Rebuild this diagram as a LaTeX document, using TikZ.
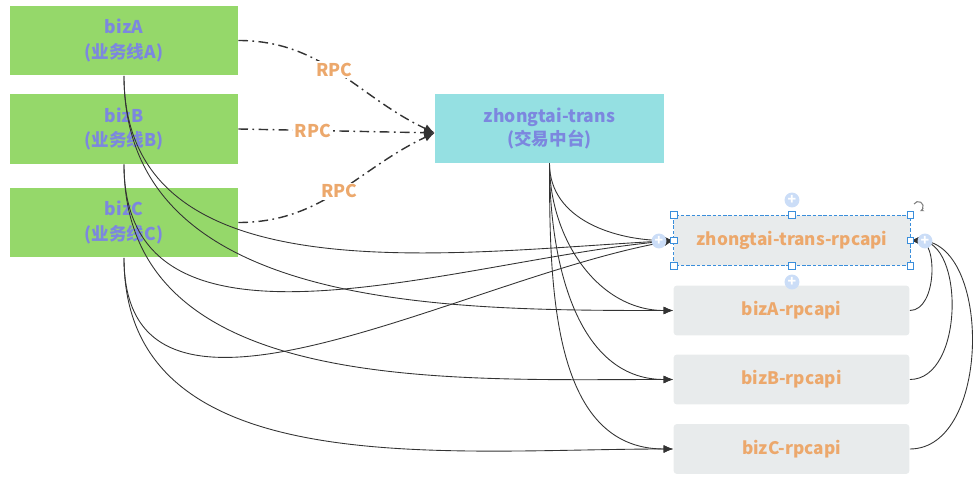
\documentclass[tikz,border=0pt]{standalone}
\usepackage{fontspec}
\setmainfont{Noto Sans CJK SC}
\usetikzlibrary{arrows.meta}
\definecolor{biz}{HTML}{95D86A}
\definecolor{trans}{HTML}{95E0E2}
\definecolor{api}{HTML}{E8EBEC}
\definecolor{title}{HTML}{7C87DF}
\definecolor{label}{HTML}{ECA86C}
\definecolor{wire}{HTML}{333333}
\definecolor{select}{HTML}{3A8EDB}
\definecolor{handle}{HTML}{CBDDF7}

\begin{document}
\begin{tikzpicture}[x=0.02cm, y=-0.02cm,
  bizbox/.style={fill=biz, minimum width=4.56cm, minimum height=1.4cm, align=center,
    text=title, font=\bfseries\fontsize{10}{14.5}\selectfont},
  transbox/.style={fill=trans, minimum width=4.58cm, minimum height=1.38cm, align=center,
    text=title, font=\bfseries\fontsize{10}{13.5}\selectfont},
  apibox/.style={fill=api, rounded corners=2pt, minimum width=4.72cm, minimum height=1cm,
    text=label, font=\bfseries\fontsize{9.8}{12}\selectfont},
  rpc/.style={draw=wire, line width=0.8pt, dash pattern=on 5.5pt off 2.5pt on 1pt off 2.5pt,
    -{Latex[length=6pt, width=5pt]}},
  rpclabel/.style={fill=white, text=label, inner sep=1pt, font=\bfseries\fontsize{10}{12}\selectfont},
  call/.style={draw=wire, line width=0.5pt, -{Latex[length=5.5pt, width=4.5pt]}},
  handlebox/.style={draw=select, fill=white, line width=0.5pt, minimum size=3.8pt, inner sep=0pt},
  plusdot/.style={circle, fill=handle, text=white, minimum size=8.5pt, inner sep=0pt,
    font=\bfseries\fontsize{8}{8}\selectfont}
]
  \useasboundingbox (0,0) rectangle (978,483);

  % Business lines
  \foreach \n/\y in {A/40.5, B/129, C/222.5}
    \node[bizbox] (biz\n) at (124,\y) {biz\n\\[-0.4pt](业务线\n)};

  % Middle platform
  \node[transbox] (zt) at (549.5,128.5) {zhongtai-trans\\(交易中台)};

  % rpcapi packages
  \node[apibox] (ztapi) at (792,240.5) {zhongtai-trans-rpcapi};
  \foreach \n/\y in {A/310.5, B/379.5, C/449}
    \node[apibox] (api\n) at (791.5,\y) {biz\n-rpcapi};

  % RPC calls into the middle platform
  \coordinate (ztin) at ([yshift=-2.5pt]zt.west);
  \draw[rpc] (bizA.east) to[out=0, in=155] node[rpclabel, pos=0.47] {RPC} (ztin);
  \draw[rpc] (bizB.east) -- node[rpclabel, pos=0.38] {RPC} (ztin);
  \draw[rpc] (bizC.east) to[out=0, in=205] node[rpclabel, pos=0.5] {RPC} (ztin);

  % Dependencies on the rpcapi packages
  \foreach \n/\a in {A/183, B/185, C/190} {
    \draw[call] (biz\n.south) to[out=-90, in=180] (api\n.west);
    \draw[call] (biz\n.south) to[out=-90, in=\a] (ztapi.west);
  }
  \foreach \t in {ztapi, apiA, apiB, apiC}
    \draw[call] (zt.south) to[out=-90, in=180] (\t.west);
  \foreach \n in {A, B, C}
    \draw[call] (api\n.east) to[out=0, in=0] (ztapi.east);

  % Selection frame round zhongtai-trans-rpcapi
  \draw[select, line width=0.5pt, dash pattern=on 2pt off 1pt]
    (ztapi.south west) rectangle (ztapi.north east);
  \foreach \a [count=\i] in {north west, north, north east, west, east, south west, south, south east}
    \node[handlebox] (h\i) at (ztapi.\a) {};
  \foreach \p [count=\i] in {(792,200), (792,282), (659,241), (925,241)}
    \node[plusdot] (p\i) at \p {+};
  \draw[gray, line width=0.6pt, -{Stealth[length=2.5pt]}] (914,204) arc[start angle=150, end angle=-70, radius=2.8pt];
\end{tikzpicture}
\end{document}
